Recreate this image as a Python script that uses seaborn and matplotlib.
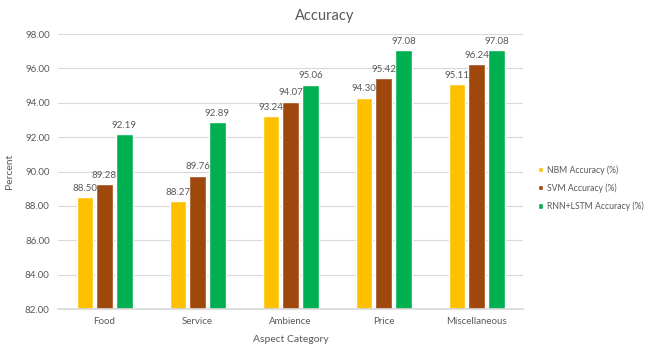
import matplotlib
matplotlib.use("Agg")
import matplotlib.pyplot as plt
import seaborn as sns
import pandas as pd

categories = ["Food", "Service", "Ambience", "Price", "Miscellaneous"]
series_names = ["NBM Accuracy (%)", "SVM Accuracy (%)", "RNN+LSTM Accuracy (%)"]
nbm = [88.50, 88.27, 93.24, 94.30, 95.11]
svm = [89.28, 89.76, 94.07, 95.42, 96.24]
rnn_lstm = [92.19, 92.89, 95.06, 97.08, 97.08]
y_ticks = [82, 84, 86, 88, 90, 92, 94, 96, 98]

colors = ["#FFC000", "#9E480E", "#00B050"]

rows = []
for name, vals in zip(series_names, [nbm, svm, rnn_lstm]):
    for cat, v in zip(categories, vals):
        rows.append({"Aspect Category": cat, "Model": name, "Percent": v})
df = pd.DataFrame(rows)

sns.set_theme(style="white")
plt.rcParams["font.family"] = ["Lato", "DejaVu Sans"]

fig = plt.figure(figsize=(6.49, 3.45), dpi=100)
ax = fig.add_axes([0.0894, 0.1043, 0.806 - 0.0894, 0.9014 - 0.1043])

sns.barplot(data=df, x="Aspect Category", y="Percent", hue="Model",
            order=categories, hue_order=series_names, palette=colors,
            width=0.64, gap=0.18, ax=ax, errorbar=None, saturation=1)

text_color = "#595959"
for cont in ax.containers:
    ax.bar_label(cont, fmt="%.2f", fontsize=7, color=text_color, padding=3)

ax.set_ylim(82, 98)
ax.set_yticks(y_ticks)
ax.set_yticklabels([f"{t:.2f}" for t in y_ticks])
ax.yaxis.grid(True, color="#D9D9D9", linewidth=0.8)
ax.set_axisbelow(True)
for s in ["top", "right", "left"]:
    ax.spines[s].set_visible(False)
ax.spines["bottom"].set_color("#D9D9D9")
ax.tick_params(axis="both", length=0, labelsize=7, colors=text_color, pad=6)

ax.set_xlabel("Aspect Category", fontsize=7.5, color=text_color, labelpad=6)
ax.set_ylabel("Percent", fontsize=7.5, color=text_color, labelpad=8)
fig.text(0.5, 0.955, "Accuracy", ha="center", va="center", fontsize=10.5, color=text_color)

leg = ax.legend(loc="center left", bbox_to_anchor=(0.829, 0.455),
                bbox_transform=fig.transFigure, frameon=False, fontsize=6.2,
                handlelength=0.6, handleheight=0.6, handletextpad=0.45,
                labelspacing=1.0, borderpad=0, borderaxespad=0)
for t in leg.get_texts():
    t.set_color(text_color)

fig.savefig("out.png", dpi=100, facecolor="white")
